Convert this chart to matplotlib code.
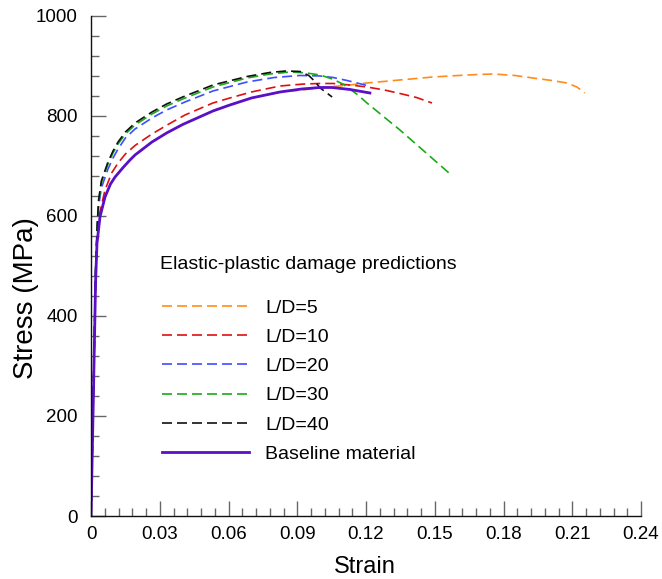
import numpy as np
import matplotlib
matplotlib.use('Agg')
import matplotlib.pyplot as plt
from matplotlib.ticker import MultipleLocator

plt.rcParams['font.family'] = ['Liberation Sans', 'DejaVu Sans']

# baseline material (solid purple)
base_strain = [0, 0.0012, 0.0020, 0.0026, 0.0039, 0.0061, 0.0085, 0.0105, 0.0140, 0.0170,
               0.0192, 0.0266, 0.0330, 0.0400, 0.0532, 0.0606, 0.0700, 0.0825, 0.0920,
               0.1000, 0.1050, 0.1130, 0.1217]
base_stress = [0, 280, 470, 545, 598, 638, 664, 678, 697, 712,
               722, 748, 766, 783, 810, 822, 836, 848, 854,
               857, 857, 853, 846]

# L/D=5 (orange) - follows the baseline, then keeps hardening
ld5_strain = [0, 0.0012, 0.0020, 0.0026, 0.0039, 0.0061, 0.0085, 0.0105, 0.0140, 0.0170,
              0.0192, 0.0266, 0.0330, 0.0400, 0.0532, 0.0606, 0.0700, 0.0825, 0.0920,
              0.1000, 0.1060, 0.1130, 0.1204, 0.1348, 0.1492, 0.1640, 0.1754, 0.1850,
              0.1928, 0.2010, 0.2077, 0.2120, 0.2155]
ld5_stress = [0, 280, 470, 545, 598, 638, 664, 678, 697, 712,
              722, 748, 766, 783, 810, 822, 836, 848, 852,
              856, 859, 862, 866, 872, 878, 882, 884, 881,
              876, 871, 866, 858, 846]

# L/D=10 (red)
ld10_strain = [0, 0.0012, 0.0020, 0.0027, 0.0035, 0.0061, 0.0090, 0.0118, 0.0150, 0.0192,
               0.0266, 0.0336, 0.0410, 0.0532, 0.0606, 0.0700, 0.0825, 0.0930, 0.1000,
               0.1056, 0.1130, 0.1204, 0.1280, 0.1348, 0.1420, 0.1488]
ld10_stress = [0, 285, 480, 560, 600, 652, 686, 706, 724, 741,
               764, 783, 802, 826, 836, 848, 860, 864, 865,
               865, 862, 858, 852, 845, 837, 826]

# L/D=20 (blue)
ld20_strain = [0, 0.0012, 0.0020, 0.0027, 0.0033, 0.0045, 0.0074, 0.0096, 0.0118, 0.0150,
               0.0192, 0.0266, 0.0330, 0.0410, 0.0532, 0.0681, 0.0800, 0.0912, 0.1000,
               0.1056, 0.1117, 0.1204]
ld20_stress = [0, 290, 488, 572, 618, 656, 694, 716, 734, 756,
               774, 796, 812, 828, 850, 868, 877, 881, 880,
               877, 871, 861]

# L/D=30 (green)
ld30_strain = [0, 0.0012, 0.0020, 0.0027, 0.0033, 0.0045, 0.0074, 0.0096, 0.0118, 0.0150,
               0.0192, 0.0266, 0.0330, 0.0400, 0.0532, 0.0681, 0.0780, 0.0870, 0.0940,
               0.1000, 0.1052, 0.1099, 0.1165, 0.1204, 0.1348, 0.1562]
ld30_stress = [0, 290, 490, 578, 626, 666, 704, 726, 744, 764,
               782, 804, 820, 834, 858, 876, 884, 888, 886,
               882, 874, 864, 842, 826, 772, 686]

# L/D=40 (black)
ld40_strain = [0, 0.0012, 0.0020, 0.0027, 0.0033, 0.0045, 0.0074, 0.0096, 0.0118, 0.0150,
               0.0192, 0.0266, 0.0330, 0.0400, 0.0532, 0.0681, 0.0780, 0.0850, 0.0912,
               0.0950, 0.0975, 0.1000, 0.1052]
ld40_stress = [0, 290, 492, 582, 632, 670, 708, 730, 748, 768,
               786, 808, 824, 838, 862, 879, 887, 890, 889,
               881, 870, 856, 838]

x_ticks = [0, 0.03, 0.06, 0.09, 0.12, 0.15, 0.18, 0.21, 0.24]
x_labels = ['0', '0.03', '0.06', '0.09', '0.12', '0.15', '0.18', '0.21', '0.24']
y_ticks = [0, 200, 400, 600, 800, 1000]

fig = plt.figure(figsize=(6.62, 5.79), dpi=100)
ax = fig.add_axes([0.1375, 0.1088, 0.8308, 0.8636])

dash = (6.0, 3.0)
lw = 1.2
h5, = ax.plot(ld5_strain, ld5_stress, color='#ff8c1a', lw=lw, dashes=dash, label='L/D=5')
h10, = ax.plot(ld10_strain, ld10_stress, color='#dd1111', lw=lw, dashes=dash, label='L/D=10')
h20, = ax.plot(ld20_strain, ld20_stress, color='#3d4dff', lw=lw, dashes=dash, label='L/D=20')
h30, = ax.plot(ld30_strain, ld30_stress, color='#1aaa1a', lw=lw, dashes=dash, label='L/D=30')
h40, = ax.plot(ld40_strain, ld40_stress, color='#111111', lw=lw, dashes=dash, label='L/D=40')
hb, = ax.plot(base_strain, base_stress, color='#5a0fc8', lw=2.0, label='Baseline material')

ax.set_xlim(0, 0.24)
ax.set_ylim(0, 1000)
ax.set_xticks(x_ticks)
ax.set_xticklabels(x_labels)
ax.set_yticks(y_ticks)
ax.xaxis.set_minor_locator(MultipleLocator(0.006))
ax.yaxis.set_minor_locator(MultipleLocator(40))

for s in ['top', 'right']:
    ax.spines[s].set_visible(False)
for s in ['left', 'bottom']:
    ax.spines[s].set_linewidth(1.0)
    ax.spines[s].set_color('#111111')

ax.tick_params(which='major', direction='in', length=11, width=1.0, color='#666666',
               labelsize=13.5, pad=9.5)
ax.tick_params(which='minor', direction='in', length=6, width=1.0, color='#666666')
ax.tick_params(axis='x', which='major', pad=7)

ax.set_xlabel('Strain', fontsize=17)
ax.set_ylabel('Stress (MPa)', fontsize=20)
ax.xaxis.set_label_coords(0.498, -0.08)
ax.yaxis.set_label_coords(-0.095, 0.436)

ax.text(0.125, 0.502, 'Elastic-plastic damage predictions', transform=ax.transAxes,
        fontsize=14, ha='left', va='center')
ax.legend(handles=[h5, h10, h20, h30, h40, hb], loc='upper left',
          bbox_to_anchor=(0.129, 0.434), frameon=False, fontsize=14,
          handlelength=4.48, handletextpad=0.82, labelspacing=0.6,
          borderpad=0, borderaxespad=0)

fig.savefig('out.png', dpi=100)
